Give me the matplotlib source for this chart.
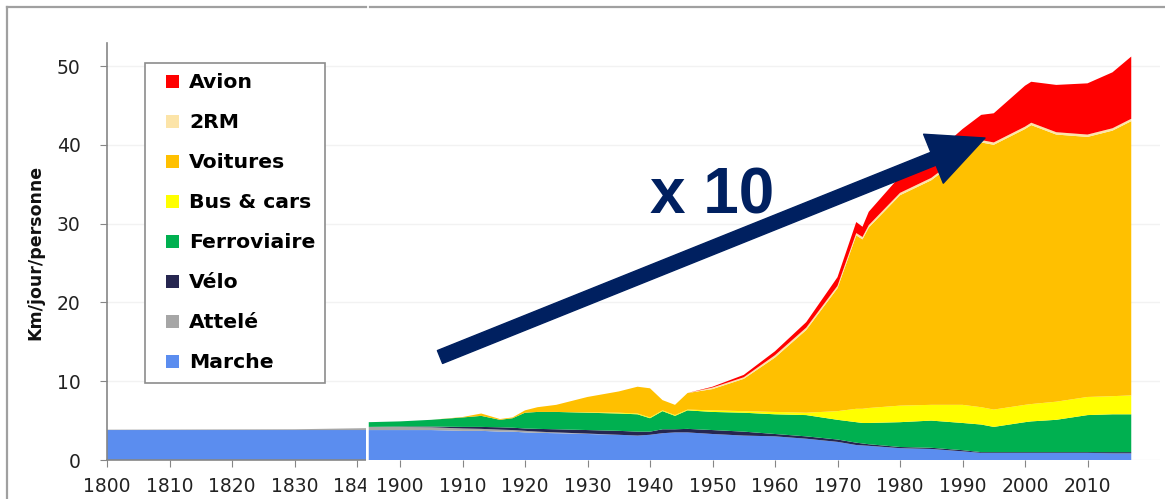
import matplotlib.pyplot as plt
from matplotlib.patches import Patch, Rectangle
from matplotlib.lines import Line2D
from matplotlib.legend_handler import HandlerPatch

plt.rcParams['font.family'] = ['DejaVu Sans']

# 1800-1840: walking plus a little horse-drawn travel
years_old = [1800, 1830, 1842]
marche_old = [3.8, 3.8, 3.8]
attele_old = [0.05, 0.1, 0.25]

# 1895-2017: km per day per person, by mode
years = [1895, 1900, 1905, 1910, 1913, 1916, 1918, 1920, 1922, 1925, 1930, 1935,
         1938, 1940, 1942, 1944, 1946, 1950, 1955, 1960, 1965, 1970, 1973, 1974,
         1975, 1980, 1985, 1990, 1993, 1995, 2000, 2001, 2005, 2010, 2014, 2017]
marche = [3.8, 3.8, 3.8, 3.7, 3.7, 3.6, 3.6, 3.5, 3.45, 3.4, 3.3, 3.2,
          3.1, 3.2, 3.4, 3.5, 3.5, 3.3, 3.1, 3.0, 2.7, 2.3, 1.9, 1.85,
          1.8, 1.5, 1.4, 1.1, 0.9, 0.9, 0.9, 0.9, 0.9, 0.9, 0.85, 0.85]
attele = [0.4, 0.4, 0.35, 0.3, 0.25, 0.25, 0.2, 0.2, 0.15, 0.1, 0.05, 0,
          0, 0, 0, 0, 0, 0, 0, 0, 0, 0, 0, 0,
          0, 0, 0, 0, 0, 0, 0, 0, 0, 0, 0, 0]
velo = [0.0, 0.05, 0.1, 0.2, 0.25, 0.3, 0.3, 0.3, 0.35, 0.4, 0.45, 0.5,
        0.5, 0.4, 0.5, 0.4, 0.45, 0.5, 0.5, 0.3, 0.3, 0.3, 0.3, 0.25,
        0.2, 0.15, 0.15, 0.15, 0.1, 0.1, 0.1, 0.1, 0.1, 0.1, 0.15, 0.15]
ferro = [0.6, 0.65, 0.85, 1.2, 1.4, 0.95, 1.2, 2.0, 2.15, 2.2, 2.2, 2.2,
         2.2, 1.7, 2.3, 1.7, 2.35, 2.3, 2.4, 2.5, 2.7, 2.5, 2.6, 2.6,
         2.7, 3.15, 3.45, 3.45, 3.5, 3.2, 3.8, 3.9, 4.1, 4.7, 4.8, 4.8]
bus = [0, 0, 0, 0, 0, 0, 0, 0, 0, 0, 0.05, 0.1,
       0.1, 0.1, 0.1, 0.1, 0.1, 0.2, 0.2, 0.3, 0.3, 1.1, 1.7, 1.8,
       1.9, 2.1, 2.0, 2.3, 2.2, 2.2, 2.2, 2.2, 2.3, 2.3, 2.3, 2.4]
voitures = [0, 0, 0, 0.05, 0.3, 0.1, 0.1, 0.3, 0.6, 0.9, 1.95, 2.7,
            3.4, 3.7, 1.3, 1.3, 2.1, 2.7, 4.1, 6.9, 10.5, 15.6, 22.0, 21.5,
            22.9, 26.7, 28.5, 31.5, 33.6, 33.6, 35.0, 35.4, 33.9, 33.0, 33.7, 34.8]
deux_roues = [0, 0, 0, 0, 0, 0, 0, 0, 0, 0, 0, 0,
              0, 0, 0, 0, 0, 0.2, 0.2, 0.3, 0.3, 0.3, 0.3, 0.3,
              0.3, 0.3, 0.3, 0.3, 0.3, 0.3, 0.3, 0.3, 0.3, 0.3, 0.3, 0.3]
avion = [0, 0, 0, 0, 0, 0, 0, 0, 0, 0, 0, 0,
         0, 0, 0, 0, 0, 0.1, 0.3, 0.5, 0.7, 1.1, 1.4, 1.3,
         1.7, 2.1, 2.7, 3.2, 3.2, 3.7, 5.2, 5.2, 6.0, 6.5, 7.1, 7.9]

labels = ['Marche', 'Attelé', 'Vélo', 'Ferroviaire', 'Bus & cars', 'Voitures', '2RM', 'Avion']
colors = ['#5b8def', '#a6a6a6', '#262650', '#00b050', '#ffff00', '#ffc000', '#fce4a8', '#ff0000']
yticks = [0, 10, 20, 30, 40, 50]
xticks_old = [1800, 1810, 1820, 1830, 1840]
xlabels_old = ['1800', '1810', '1820', '1830', '']
xticks_new = [1900, 1910, 1920, 1930, 1940, 1950, 1960, 1970, 1980, 1990, 2000, 2010]

W, H = 1165, 499
fig = plt.figure(figsize=(W / 100, H / 100), dpi=100)


def px_axes(x0, x1, y0, y1):
    return fig.add_axes([x0 / W, (H - y1) / H, (x1 - x0) / W, (y1 - y0) / H])


ymax = (460 - 43) / 7.88
grey = '#868686'
tick_font = 13.5

# left panel, 1800-1840
ax1 = px_axes(107, 366, 43, 460)
ax1.stackplot(years_old, marche_old, attele_old, colors=colors[:2], lw=0)
ax1.set_xlim(1800, 1841.4)
ax1.set_ylim(0, ymax)
ax1.set_yticks(yticks)
ax1.set_xticks(xticks_old, xlabels_old)
for s in ['top', 'right']:
    ax1.spines[s].set_visible(False)
for s in ['left', 'bottom']:
    ax1.spines[s].set_color(grey)
    ax1.spines[s].set_linewidth(1.2)
ax1.xaxis.set_tick_params(length=5, color=grey, labelsize=tick_font, labelcolor='#222222', pad=7.5)
ax1.yaxis.set_tick_params(length=5, color=grey, labelsize=tick_font, labelcolor='#222222', pad=14)
ax1.yaxis.grid(True, color='#f2f2f2', lw=1)
ax1.set_axisbelow(True)
# the 1840 label runs under the second panel, only "184" shows
ax1.text(1840 - 24 / 6.25, -17.5 / 417, '184', transform=ax1.get_xaxis_transform(),
         ha='left', va='top', fontsize=tick_font, color='#222222')

# right panel, 1895-2017
ax2 = px_axes(366, 1160, 43, 460)
ax2.set_zorder(6)
ax2.patch.set_visible(False)
ax2.stackplot(years, marche, attele, velo, ferro, bus, voitures, deux_roues, avion,
              colors=colors, lw=0)
ax2.set_xlim(1900 - 34 / 6.25, 1900 - 34 / 6.25 + 794 / 6.25)
ax2.set_ylim(0, ymax)
ax2.set_yticks(yticks)
ax2.set_xticks(xticks_new)
for s in ['top', 'right', 'left', 'bottom']:
    ax2.spines[s].set_visible(False)
ax2.tick_params(axis='y', left=False, labelleft=False)
ax2.tick_params(axis='x', length=5, color=grey, labelsize=tick_font, labelcolor='#222222', pad=7.5)
ax2.yaxis.grid(True, color='#f2f2f2', lw=1)
ax2.set_axisbelow(True)

# white strip between the two panels
fig.add_artist(Rectangle((366 / W, 0), 5 / W, 40 / H, transform=fig.transFigure,
                         facecolor='white', edgecolor='none', zorder=5))

# frame lines
fig.add_artist(Line2D([7 / W, 7 / W], [0, (H - 7) / H], color='#a0a0a0', lw=1.6))
fig.add_artist(Line2D([7 / W, 366 / W], [(H - 7) / H] * 2, color='#a0a0a0', lw=1.6))
fig.add_artist(Line2D([370 / W, 1.0], [(H - 7) / H] * 2, color='#a0a0a0', lw=1.6))


def square_right(legend, orig_handle, xdescent, ydescent, width, height, fontsize):
    s = 0.64 * fontsize
    return Rectangle((width - s - xdescent, (height - s) / 2 - ydescent), s, s)


# legend
handles = [Patch(facecolor=c, edgecolor='none') for c in colors][::-1]
leg = fig.legend(handles, labels[::-1], loc='upper left',
                 bbox_to_anchor=(145 / W, (H - 63) / H),
                 prop={'weight': 'bold', 'size': 14.7},
                 handler_map={Patch: HandlerPatch(patch_func=square_right)},
                 handlelength=1.15, handleheight=0.7, handletextpad=0.5,
                 labelspacing=1.03, borderpad=0.5, borderaxespad=0,
                 fancybox=False, framealpha=1, edgecolor='#8c8c8c')
leg.get_frame().set_linewidth(1.2)
leg.set_zorder(7)

fig.text(35 / W, (H - 252) / H, 'Km/jour/personne', rotation=90, ha='center', va='center',
         fontsize=12.5, fontweight='bold', color='#111111')

# growth arrow and label
ax2.annotate('', xy=(985, H - 138), xytext=(440, H - 357), xycoords='figure pixels',
             textcoords='figure pixels',
             arrowprops=dict(arrowstyle='simple,head_length=4.0,head_width=3.8,tail_width=1.0',
                             mutation_scale=10, color='#002060', shrinkA=0, shrinkB=0))
fig.text(712 / W, (H - 213) / H, 'x 10', ha='center', va='baseline', fontsize=46,
         fontweight='bold', family='Liberation Sans', color='#002060', zorder=10)

fig.savefig('out.png', dpi=100)
